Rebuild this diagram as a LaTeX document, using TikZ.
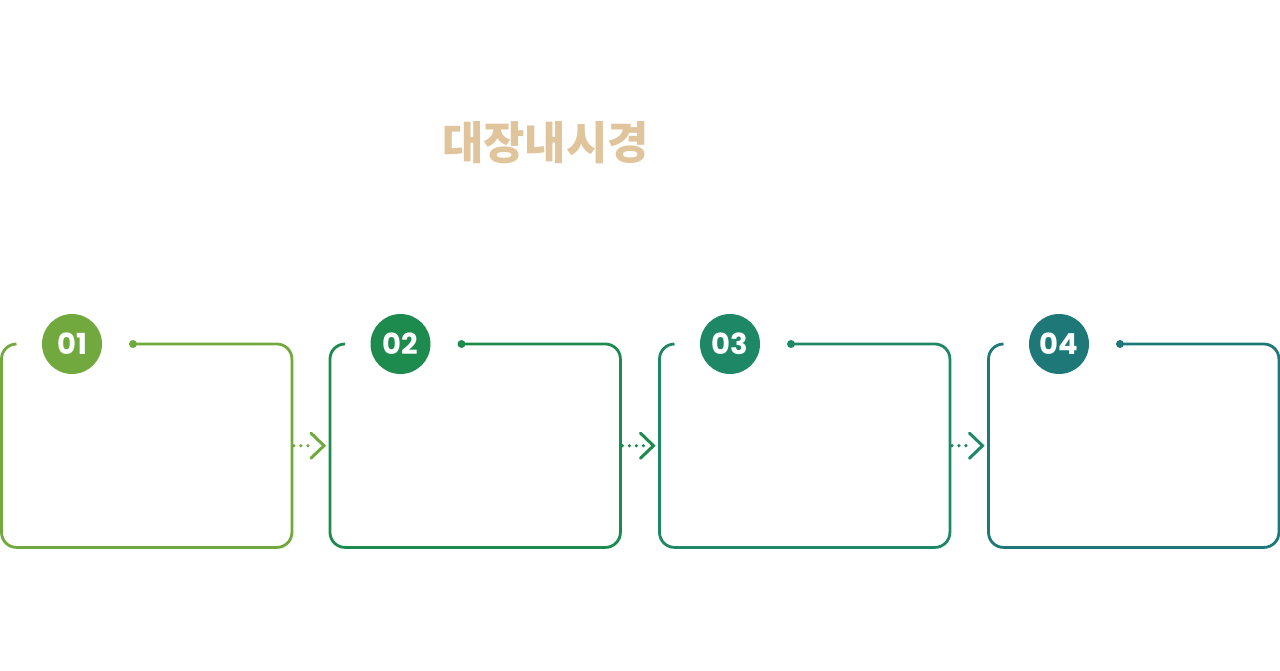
\documentclass[tikz,border=0pt]{standalone}
\usepackage{fontspec}
\newfontfamily\cjk{Noto Sans CJK KR Black}
\newfontfamily\numfont{Poppins}
\usetikzlibrary{calc}
\definecolor{cA}{HTML}{72A93F}
\definecolor{cB}{HTML}{1D8A4E}
\definecolor{cC}{HTML}{1E8766}
\definecolor{cD}{HTML}{1F7878}
\definecolor{titlec}{HTML}{E0C49B}
\tikzset{
  frame/.style={line width=2.8pt, rounded corners=15pt},
  badge/.style={circle, minimum size=60pt, inner sep=0pt, text=white, font=\numfont\bfseries\fontsize{29}{29}\selectfont},
  dotline/.style={line width=3.6pt, line cap=round, dash pattern=on 0pt off 7pt},
  chev/.style={line width=3pt, line cap=round, line join=miter},
  boxarea/.style={minimum width=290pt, minimum height=203pt, inner sep=0pt, draw=none},
}
\begin{document}
\begin{tikzpicture}[x=1pt,y=-1pt]
\useasboundingbox (0,0) rectangle (1280,670);
\node[font=\cjk\fontsize{45}{45}\selectfont, text=titlec] (title) at (545.5,143) {대장내시경};
% boxes
\foreach \i/\x/\c in {1/1.5/cA,2/330/cB,3/659.5/cC,4/988.5/cD}{
  \node[boxarea, anchor=north west] (b\i) at (\x,344) {};
  \node[badge, fill=\c] (n\i) at (\x+70.5,344) {0\i};
  \coordinate (d\i) at (\x+131.5,344);
  \fill[\c] (d\i) circle (4pt);
  \draw[frame, \c] (d\i) -- (b\i.north east) -- (b\i.south east) -- (b\i.south west) -- (b\i.north west) -- ([xshift=15pt]b\i.north west);
}
% arrows
\foreach \a/\b/\c in {1/2/cA,2/3/cB,3/4/cC}{
  \coordinate (t\a) at ($(b\b.west)+(-6,0)$);
  \draw[dotline, \c] ($(b\a.east)+(2,0)$) -- ($(t\a)+(-10,0)$);
  \draw[chev, \c] ($(t\a)+(-13,-12.5)$) -- (t\a) -- ($(t\a)+(-13,12.5)$);
}
\end{tikzpicture}
\end{document}
